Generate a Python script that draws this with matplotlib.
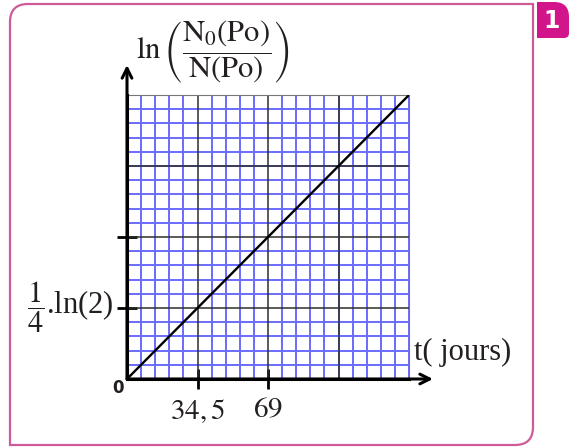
import numpy as np
import matplotlib
matplotlib.use("Agg")
import matplotlib.pyplot as plt
from matplotlib.path import Path as MPath
from matplotlib.patches import PathPatch
from matplotlib.transforms import ScaledTranslation

plt.rcParams["mathtext.fontset"] = "stix"
plt.rcParams["font.family"] = ["Liberation Serif", "DejaVu Serif"]

# data: ln(N0/N) = lambda * t, half-life 138 days
t_line = [0, 138]
ln_ratio = [0, np.log(2)]
x_ticks = [34.5, 69]
x_ticklabels = [r"$34,5$", r"$69$"]
y_ticks = [np.log(2) / 4, np.log(2) / 2]
y_ticklabels = [r"$\dfrac{1}{4}$.ln(2)", ""]
t_max, y_max = 138, np.log(2)

INK = "#231f20"
PINK = "#cf5a98"
BADGE = "#d3158b"
BLUE = "#6b6bff"

W, H = 576, 448
fig = plt.figure(figsize=(W / 100, H / 100), dpi=100)
fig.patch.set_facecolor("white")

# frame layer in pixel coordinates
bg = fig.add_axes([0, 0, 1, 1], zorder=0)
bg.set_xlim(0, W); bg.set_ylim(H, 0); bg.axis("off")
r = 18
x0, x1, y0, y1 = 10, 533, 4, 445
verts = [(x0 + r, y0), (x1, y0), (x1, y1 - r), (x1, y1), (x1 - r, y1),
         (x0, y1), (x0, y0 + r), (x0, y0), (x0 + r, y0)]
codes = [MPath.MOVETO, MPath.LINETO, MPath.LINETO, MPath.CURVE3, MPath.CURVE3,
         MPath.LINETO, MPath.LINETO, MPath.CURVE3, MPath.CURVE3]
bg.add_patch(PathPatch(MPath(verts, codes), facecolor="none", edgecolor=PINK, lw=1.6))
bv = [(537, 2), (554, 2), (569, 2), (569, 17), (569, 33), (569, 38), (564, 38), (537, 38), (537, 2)]
bc = [MPath.MOVETO, MPath.LINETO, MPath.CURVE3, MPath.CURVE3, MPath.LINETO,
      MPath.CURVE3, MPath.CURVE3, MPath.LINETO, MPath.CLOSEPOLY]
bg.add_patch(PathPatch(MPath(bv, bc), facecolor=BADGE, edgecolor="none"))
bg.text(552, 21, "1", color="white", fontsize=17, fontweight="bold",
        family="DejaVu Sans", ha="center", va="center")

# main plot
px0, px1, py0, py1 = 127, 409, 379, 95
ax = fig.add_axes([px0 / W, (H - py0) / H, (px1 - px0) / W, (py0 - py1) / H], zorder=1)
ax.set_xlim(0, t_max); ax.set_ylim(0, y_max)
ax.set_xticks(np.linspace(0, t_max, 21), minor=True)
ax.set_yticks(np.linspace(0, y_max, 21), minor=True)
ax.grid(which="minor", color=BLUE, lw=1.4)
ax.grid(which="major", visible=False)
ax.set_axisbelow(True)
for xv in np.linspace(0, t_max, 5)[1:-1]:
    ax.axvline(xv, color="#2e2e2e", lw=1.1, zorder=2)
for yv in np.linspace(0, y_max, 5)[1:-1]:
    ax.axhline(yv, color="#2e2e2e", lw=1.1, zorder=2)
ax.plot(t_line, ln_ratio, color="black", lw=1.7, zorder=3)

for s in ("top", "right"):
    ax.spines[s].set_color("#777777"); ax.spines[s].set_linewidth(0.8)
for s in ("left", "bottom"):
    ax.spines[s].set_color("black"); ax.spines[s].set_linewidth(2.2)
    ax.spines[s].set_zorder(4)

ax.set_xticks(x_ticks)
ax.set_xticklabels(x_ticklabels, fontsize=21, color=INK)
ax.set_yticks(y_ticks)
ax.set_yticklabels(y_ticklabels, fontsize=22, color=INK)
ax.tick_params(which="major", direction="inout", length=14, width=2, color="black")
ax.tick_params(axis="x", which="major", pad=6)
ax.tick_params(axis="y", which="major", pad=3)
ax.tick_params(which="minor", length=0)
for lab in ax.get_yticklabels():
    lab.set_transform(lab.get_transform() + ScaledTranslation(0, 8 / 72, fig.dpi_scale_trans))

# axis arrows
ax.annotate("", xy=(433 / W, (H - py0) / H), xytext=(px0 / W, (H - py0) / H),
            xycoords="figure fraction",
            arrowprops=dict(arrowstyle="->,head_length=0.7,head_width=0.35", lw=2.2, color="black",
                            shrinkA=0, shrinkB=0))
ax.annotate("", xy=(px0 / W, (H - 65) / H), xytext=(px0 / W, (H - py0) / H),
            xycoords="figure fraction",
            arrowprops=dict(arrowstyle="->,head_length=0.7,head_width=0.35", lw=2.2, color="black",
                            shrinkA=0, shrinkB=0))

fig.text(118 / W, (H - 388) / H, "0", fontsize=12, fontweight="bold", family="DejaVu Sans",
         color=INK, ha="center", va="center")
fig.text(414 / W, (H - 352) / H, "t( jours)", fontsize=22, color=INK, ha="left", va="center")
fig.text(213 / W, (H - 52) / H, r"$\ln\left(\dfrac{\mathrm{N_0(Po)}}{\mathrm{N(Po)}}\right)$",
         fontsize=22, color=INK, ha="center", va="center")

fig.savefig("out.png", dpi=100, facecolor="white")
